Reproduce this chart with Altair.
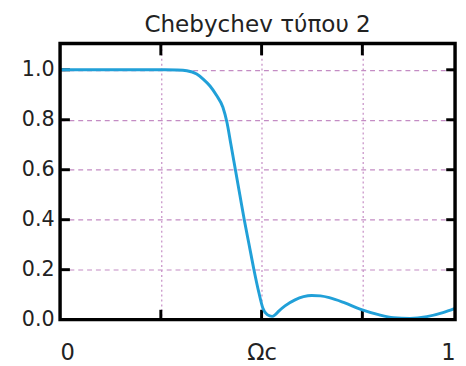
import altair as alt
import pandas as pd

# Normalised frequency (x) and magnitude (y)
freq = [0.00, 0.10, 0.20, 0.26, 0.29, 0.3145, 0.339, 0.355, 0.372, 0.388, 0.404, 0.414,
        0.424, 0.435, 0.446, 0.457, 0.469, 0.481, 0.493, 0.503, 0.514, 0.526,
        0.534, 0.542, 0.558, 0.583, 0.604, 0.624, 0.646, 0.668, 0.705, 0.746,
        0.790, 0.827, 0.868, 0.910, 0.950, 0.980]
gain = [1.000, 1.000, 1.000, 1.000, 0.999, 0.996, 0.983, 0.963, 0.935, 0.898, 0.850, 0.790,
        0.700, 0.600, 0.500, 0.400, 0.300, 0.200, 0.110, 0.047, 0.020, 0.013,
        0.020, 0.033, 0.055, 0.079, 0.092, 0.097, 0.095, 0.088, 0.068, 0.041,
        0.020, 0.008, 0.005, 0.012, 0.028, 0.045]

x_label_values = [0, 0.5, 0.98]
x_grid_values = [0.25, 0.5, 0.75]
y_label_values = [0.0, 0.2, 0.4, 0.6, 0.8, 1.0]
y_grid_values = [0.2, 0.4, 0.6, 0.8, 1.0]
x_domain = [0, 0.98]
y_domain = [0, 1.105]
title_text = "Chebychev τύπου 2"

df = pd.DataFrame({"f": freq, "g": gain})
xticks = pd.DataFrame({"v": x_grid_values})
yticks = pd.DataFrame({"v": y_grid_values})
box = pd.DataFrame({"x0": [x_domain[0]], "x1": [x_domain[1]], "y0": [y_domain[0]], "y1": [y_domain[1]]})

FONT = "DejaVu Sans"
GRID = "#c48cc4"
INK = "#000000"
xs = alt.Scale(domain=x_domain, nice=False, zero=False)
ys = alt.Scale(domain=y_domain, nice=False, zero=False)

label_expr = "datum.value == 0 ? '0' : (datum.value == 0.5 ? 'Ωc' : '1')"

grid = alt.Chart(df).mark_line(opacity=0).encode(
    x=alt.X("f:Q", scale=xs, title=None,
            axis=alt.Axis(orient="bottom", values=x_grid_values, grid=True, gridColor=GRID,
                          gridDash=[2, 3], gridWidth=1.2, ticks=False, labels=False,
                          domain=False)),
    y=alt.Y("g:Q", scale=ys, title=None,
            axis=alt.Axis(orient="left", values=y_grid_values, grid=True, gridColor=GRID,
                          gridDash=[5, 4], gridWidth=1.2, ticks=False, labels=False,
                          domain=False)),
)

labels = alt.Chart(df).mark_line(opacity=0).encode(
    x=alt.X("f:Q", scale=xs, title=None,
            axis=alt.Axis(orient="bottom", values=x_label_values, labelExpr=label_expr,
                          ticks=False, domain=False, grid=False,
                          labelFont=FONT, labelFontSize=23, labelColor="#222222",
                          labelPadding=23, labelFlush=True)),
    y=alt.Y("g:Q", scale=ys, title=None,
            axis=alt.Axis(orient="left", values=y_label_values, format=".1f",
                          ticks=False, domain=False, grid=False,
                          labelFont=FONT, labelFontSize=21, labelColor="#222222",
                          labelPadding=6)),
)

frame = alt.Chart(box).mark_rect(fill="transparent", stroke=INK, strokeWidth=3.5).encode(
    x=alt.X("x0:Q", scale=xs, axis=None), x2="x1:Q",
    y=alt.Y("y0:Q", scale=ys, axis=None), y2="y1:Q")

left_ticks = alt.Chart(yticks).mark_rule(color=INK, strokeWidth=3).encode(
    y=alt.Y("v:Q", scale=ys, axis=None), x=alt.value(0), x2=alt.value(10))
right_ticks = alt.Chart(yticks).mark_rule(color=INK, strokeWidth=3).encode(
    y=alt.Y("v:Q", scale=ys, axis=None), x=alt.value(402), x2=alt.value(393))
bottom_ticks = alt.Chart(xticks).mark_rule(color=INK, strokeWidth=3).encode(
    x=alt.X("v:Q", scale=xs, axis=None), y=alt.value(281), y2=alt.value(271))
top_ticks = alt.Chart(xticks).mark_rule(color=INK, strokeWidth=3).encode(
    x=alt.X("v:Q", scale=xs, axis=None), y=alt.value(0), y2=alt.value(12))

curve = alt.Chart(df).mark_line(color="#21a0d8", strokeWidth=3, interpolate="monotone").encode(
    x=alt.X("f:Q", scale=xs, axis=None),
    y=alt.Y("g:Q", scale=ys, axis=None),
)

chart = alt.layer(
    grid, labels, left_ticks, right_ticks, bottom_ticks, top_ticks, curve, frame
).resolve_axis(
    x="independent", y="independent"
).properties(
    width=402,
    height=281,
    title=alt.TitleParams(title_text, font=FONT, fontSize=23.5, fontWeight="normal",
                          color="#222222", anchor="middle", offset=6),
    padding={"left": 53, "top": 33, "right": 3, "bottom": 44},
    autosize=alt.AutoSizeParams(type="none"),
    background="white",
).configure_view(strokeWidth=0)

chart.save("out.html", embed_options={"renderer": "svg", "actions": False})
